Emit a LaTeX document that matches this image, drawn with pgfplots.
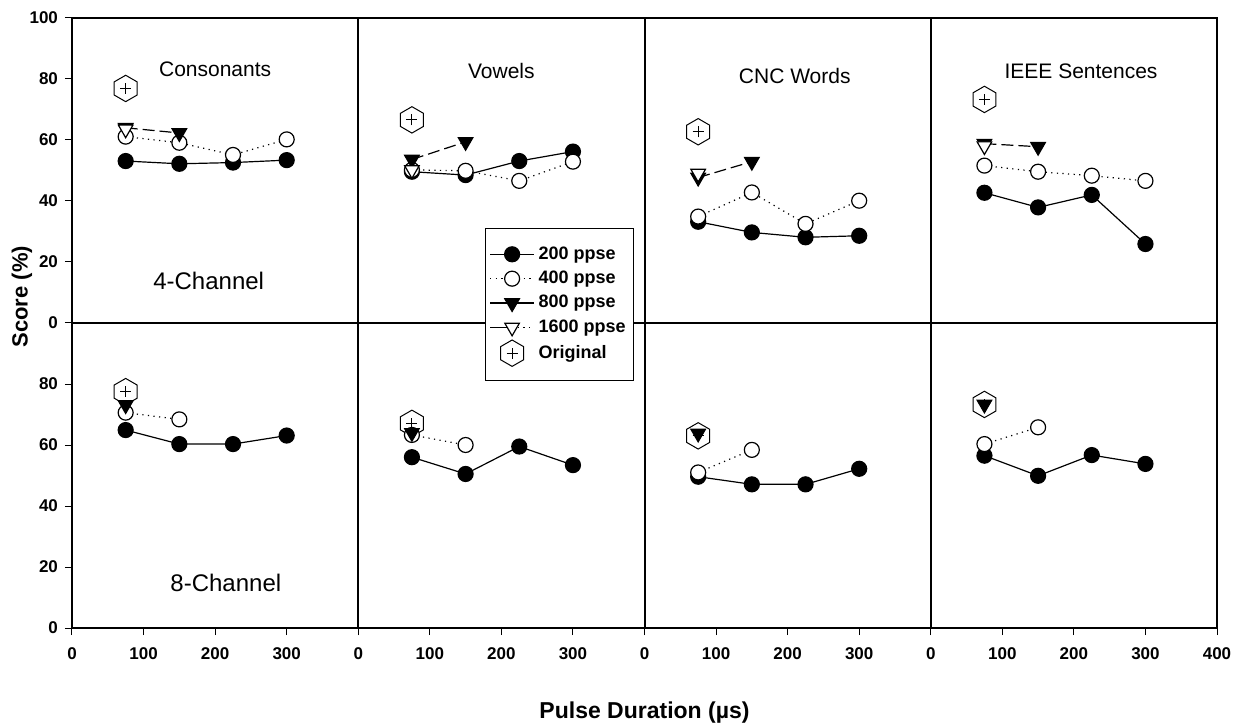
\documentclass[border=0pt]{standalone}
\usepackage{fontspec}
\setmainfont{Liberation Sans}
\usepackage{pgfplots}
\pgfplotsset{compat=1.18}

% hexagon with a plus inside, for the "Original" condition
\pgfdeclareplotmark{hexplus}{%
  \pgfpathmoveto{\pgfpointpolar{90}{\pgfplotmarksize}}%
  \pgfpathlineto{\pgfpointpolar{150}{\pgfplotmarksize}}%
  \pgfpathlineto{\pgfpointpolar{210}{\pgfplotmarksize}}%
  \pgfpathlineto{\pgfpointpolar{270}{\pgfplotmarksize}}%
  \pgfpathlineto{\pgfpointpolar{330}{\pgfplotmarksize}}%
  \pgfpathlineto{\pgfpointpolar{30}{\pgfplotmarksize}}%
  \pgfpathclose
  \pgfusepathqfillstroke
  \pgfpathmoveto{\pgfpoint{-0.42\pgfplotmarksize}{0pt}}%
  \pgfpathlineto{\pgfpoint{0.42\pgfplotmarksize}{0pt}}%
  \pgfpathmoveto{\pgfpoint{0pt}{-0.42\pgfplotmarksize}}%
  \pgfpathlineto{\pgfpoint{0pt}{0.42\pgfplotmarksize}}%
  \pgfusepathqstroke
}

% legend picture for 1600 ppse: solid line left, dotted right
\pgfplotsset{
  leg1600/.style={legend image code/.code={%
    \draw[black, line width=0.6pt] (0pt,0pt) -- (11pt,0pt);
    \draw[black, line width=0.6pt, dash pattern=on 0.6pt off 2.2pt] (11pt,0pt) -- (22pt,0pt);
    \draw[##1] plot coordinates {(11pt,0pt)};}}
}

% panels: x offset 400 per column; top row (4-channel) is shifted up by 100
\pgfplotstableread{
x y
75 153.1
150 152.2
225 152.6
300 153.4
nan nan
475 149.6
550 148.5
625 153.1
700 156.2
nan nan
875 133.2
950 129.7
1025 128.1
1100 128.6
nan nan
1275 142.7
1350 137.9
1425 142.0
1500 125.9
nan nan
75 64.9
150 60.3
225 60.3
300 63.1
nan nan
475 56.0
550 50.5
625 59.5
700 53.4
nan nan
875 49.6
950 47.1
1025 47.1
1100 52.2
nan nan
1275 56.5
1350 49.9
1425 56.7
1500 53.8
}\rateA

\pgfplotstableread{
x y
75 161.1
150 159.1
225 155.1
300 160.2
nan nan
475 150.2
550 149.9
625 146.6
700 152.9
nan nan
875 134.9
950 142.8
1025 132.5
1100 140.1
nan nan
1275 151.6
1350 149.6
1425 148.3
1500 146.6
nan nan
75 70.6
150 68.4
nan nan
475 63.3
550 60.0
nan nan
875 51.0
950 58.4
nan nan
1275 60.3
1350 65.8
}\rateB

\pgfplotstableread{
x y
75 164.0
150 162.3
nan nan
475 153.6
550 159.4
nan nan
875 147.7
950 152.9
nan nan
1275 158.8
1350 157.8
nan nan
75 73.1
nan nan
475 64.0
nan nan
875 63.8
nan nan
1275 73.3
}\rateC

\pgfplotstableread{
x y
75 163.5
nan nan
475 150.2
nan nan
875 149.0
nan nan
1275 158.0
}\rateD

\pgfplotstableread{
x y
75 176.9
475 166.6
875 162.7
1275 173.3
75 77.5
475 67.1
875 63.0
1275 73.3
}\orig

\begin{document}
\begin{tikzpicture}
\begin{axis}[
  scale only axis,
  width=572.5pt, height=305pt,
  xmin=0, xmax=1600, ymin=0, ymax=200,
  axis line style={line width=1pt},
  xtick={0,100,...,1600},
  xticklabels={0,100,200,300,0,100,200,300,0,100,200,300,0,100,200,300,400},
  ytick={0,20,...,200},
  yticklabels={0,20,40,60,80,0,20,40,60,80,100},
  extra x ticks={400,800,1200},
  extra x tick labels={},
  extra x tick style={grid=major, major grid style={black, line width=1pt}},
  extra y ticks={100},
  extra y tick labels={},
  extra y tick style={grid=major, major grid style={black, line width=1.1pt}},
  xtick pos=bottom, ytick pos=left,
  tick align=outside,
  major tick length=3.5pt,
  tick style={black, line width=0.5pt},
  ticklabel style={font=\bfseries\fontsize{8.5}{10}\selectfont},
  xticklabel style={yshift=-3pt},
  xlabel={Pulse Duration (µs)},
  ylabel={Score (\%)},
  xlabel style={font=\bfseries\fontsize{11.5}{13}\selectfont,
    at={(axis description cs:0.5,-0.138)}, anchor=center},
  ylabel style={font=\bfseries\fontsize{11}{13}\selectfont,
    at={(axis description cs:-0.0437,0.543)}, anchor=center},
  unbounded coords=jump,
  legend cell align=left,
  legend image code/.code={%
    \draw[mark repeat=2,mark phase=2,#1]
      plot coordinates {(0pt,0pt) (11pt,0pt) (22pt,0pt)};},
  legend style={
    at={(axis description cs:0.3607,0.6557)}, anchor=north west,
    draw=black, line width=0.5pt, fill=white,
    font=\bfseries\fontsize{9}{10}\selectfont,
    row sep=0.4pt, inner xsep=2pt, inner ysep=7pt
  },
]
% Original (drawn first so the triangles sit on top)
\addplot[only marks, mark=hexplus, mark size=6.6pt,
  mark options={fill=white, draw=black, line width=0.5pt}, forget plot]
  table[x=x, y=y] {\orig};

\addplot[black, line width=0.6pt, mark=*, mark size=3.75pt,
  mark options={fill=black}]
  table[x=x, y=y] {\rateA};
\addlegendentry{200 ppse}

\addplot[black, line width=0.6pt, dash pattern=on 0.6pt off 2.2pt,
  mark=*, mark size=3.75pt, mark options={solid, fill=white}]
  table[x=x, y=y] {\rateB};
\addlegendentry{400 ppse}

\addplot[black, line width=0.6pt, dash pattern=on 6pt off 2.5pt,
  mark=triangle*, mark size=4.2pt,
  mark options={solid, fill=black, rotate=180},
  legend image post style={solid}]
  table[x=x, y=y] {\rateC};
\addlegendentry{800 ppse}

\addplot[black, line width=0.6pt, mark=triangle*, mark size=4.2pt,
  mark options={solid, fill=white, rotate=180}, leg1600]
  table[x=x, y=y] {\rateD};
\addlegendentry{1600 ppse}

\addlegendimage{only marks, mark=hexplus, mark size=6.6pt,
  mark options={fill=white, draw=black, line width=0.5pt}}
\addlegendentry{Original}

\node[font=\fontsize{10.5}{12}\selectfont] at (axis cs:200,183.3) {Consonants};
\node[font=\fontsize{10.5}{12}\selectfont] at (axis cs:600,182.7) {Vowels};
\node[font=\fontsize{10.5}{12}\selectfont] at (axis cs:1010,181) {CNC Words};
\node[font=\fontsize{10.5}{12}\selectfont] at (axis cs:1410,182.4) {IEEE Sentences};
\node[font=\fontsize{12}{14}\selectfont] at (axis cs:191,113.8) {4-Channel};
\node[font=\fontsize{12}{14}\selectfont] at (axis cs:215,14.9) {8-Channel};
\end{axis}
\pgfresetboundingbox
\useasboundingbox (-36pt,-47.5pt) rectangle (585pt,314pt);
\end{tikzpicture}
\end{document}
